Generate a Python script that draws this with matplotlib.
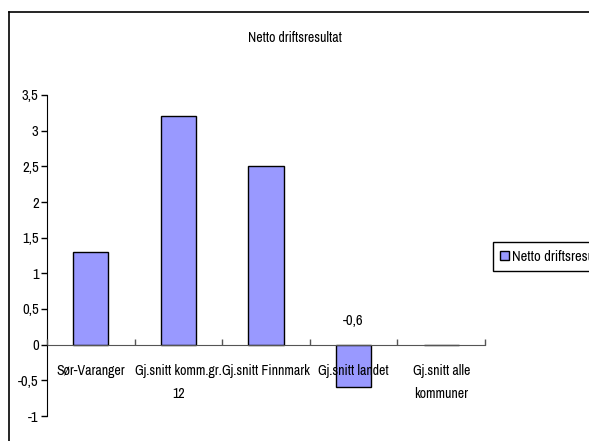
import matplotlib
matplotlib.use("Agg")
from matplotlib import pyplot as plt
from matplotlib.lines import Line2D
import numpy as np

categories = ["Sør-Varanger", "Gj.snitt komm.gr.\n12", "Gj.snitt Finnmark",
              "Gj.snitt landet", "Gj.snitt alle\nkommuner"]
values = [1.3, 3.2, 2.5, -0.6, 0.0]
yticks = [-1, -0.5, 0, 0.5, 1, 1.5, 2, 2.5, 3, 3.5]
series_name = "Netto driftsresultat"

plt.rcParams['font.family'] = ['Archivo Narrow', 'DejaVu Sans']

fig = plt.figure(figsize=(5.89, 4.41), dpi=100)
ax = fig.add_axes([47 / 589, 1 - 416 / 441, (485 - 47) / 589, (416 - 95) / 441])
ax.set_axisbelow(False)

x = np.arange(len(categories))
bars = ax.bar(x, values, width=0.4, color="#9999FF", edgecolor="black",
              linewidth=1, label=series_name, zorder=2)

ax.set_xlim(-0.5, len(categories) - 0.5)
ax.set_ylim(-1, 3.5)
ax.set_yticks(yticks)
ax.set_yticklabels([("%g" % v).replace(".", ",") for v in yticks], fontsize=10.5)
ax.tick_params(axis='y', direction='out', length=4, width=1, pad=2)

ax.spines['top'].set_visible(False)
ax.spines['right'].set_visible(False)
ax.spines['bottom'].set_position(('data', 0))
ax.spines['bottom'].set_color("#555555")

# category boundaries as tick marks, labels in the middle
ax.set_xticks(np.arange(len(categories) + 1) - 0.5)
ax.set_xticklabels([])
ax.tick_params(axis='x', which='major', direction='in', length=4, width=1, colors="#555555")
ax.set_xticks(x, minor=True)
ax.set_xticklabels(categories, minor=True, fontsize=10, linespacing=1.8)
ax.tick_params(axis='x', which='minor', length=0, pad=14)

# data label for the negative bar
ax.annotate(("%g" % values[3]).replace(".", ","), xy=(x[3], 0), xytext=(0, 12),
            textcoords='offset points', ha='center', va='bottom', fontsize=10.5)

fig.text(0.5, 1 - 38 / 441, series_name, ha='center', va='center', fontsize=10)

fig.legend(handles=[bars], labels=[series_name], loc='lower left',
           bbox_to_anchor=(493 / 589, 1 - 271 / 441), fontsize=10.5,
           frameon=True, fancybox=False, edgecolor="black", framealpha=1,
           handlelength=0.6, handleheight=0.6, handletextpad=0.2,
           borderpad=0.5, borderaxespad=0)

# outer chart border
fig.add_artist(Line2D([9 / 589, 9 / 589], [0, 1 - 12 / 441], color="black", lw=1.2))
fig.add_artist(Line2D([9 / 589, 1], [1 - 12 / 441, 1 - 12 / 441], color="black", lw=1.2))

fig.savefig("out.png", dpi=100)
